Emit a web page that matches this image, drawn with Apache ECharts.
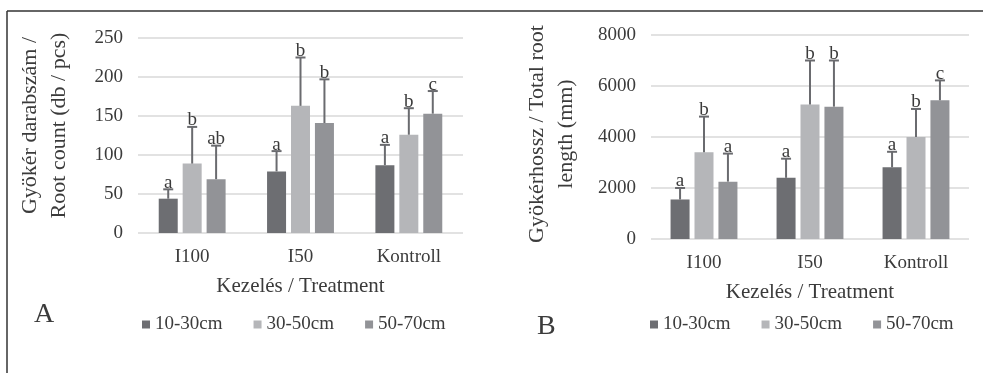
<!DOCTYPE html>
<html><head><meta charset="utf-8">
<script src="https://cdn.jsdelivr.net/npm/echarts@6/dist/echarts.min.js"></script>
<style>html,body{margin:0;padding:0;background:#fff}#c{width:983px;height:373px}</style>
</head><body><div id="c"></div>
<script>
var categories = ['I100', 'I50', 'Kontroll'];
var seriesNames = ['10-30cm', '30-50cm', '50-70cm'];
// Chart A: root count (mean) and error-bar tops
var countMean = [[44, 79, 87], [89, 163, 126], [69, 141, 153]];
var countErrTop = [[56, 105, 113], [136, 225, 160], [112, 197, 182]];
var countLetters = [['a', 'a', 'a'], ['b', 'b', 'b'], ['ab', 'b', 'c']];
var countTicks = [0, 50, 100, 150, 200, 250];
// Chart B: total root length (mean) and error-bar tops
var lengthMean = [[1550, 2400, 2810], [3400, 5270, 4000], [2250, 5190, 5440]];
var lengthErrTop = [[2000, 3150, 3420], [4800, 7000, 5100], [3350, 7000, 6220]];
var lengthLetters = [['a', 'a', 'a'], ['b', 'b', 'b'], ['a', 'b', 'c']];
var lengthTicks = [0, 2000, 4000, 6000, 8000];

var colors = ['#6d6e72', '#b5b6b9', '#929397'];
var FONT = '"Liberation Serif", "Times New Roman", serif';
var TXT = '#3b3b3b';
var BARW = 19, BARGAP = '26%';
var STEP = BARW * 1.26;

var chart = echarts.init(document.getElementById('c'), null, {renderer: 'canvas'});

function xAxisCfg(gi, name) {
  return {
    type: 'category', gridIndex: gi, data: categories,
    axisLine: {show: false}, axisTick: {show: false},
    axisLabel: {fontFamily: FONT, fontSize: 19, color: TXT, margin: 15},
    name: name, nameLocation: 'middle', nameGap: 43,
    nameTextStyle: {fontFamily: FONT, fontSize: 21, color: TXT}
  };
}
function yAxisCfg(gi, ticks, name, nameGap, pad) {
  return {
    type: 'value', gridIndex: gi, min: ticks[0], max: ticks[ticks.length - 1],
    interval: ticks[1] - ticks[0],
    axisLine: {show: false}, axisTick: {show: false},
    splitLine: {lineStyle: {color: '#d9d9d9', width: 1.5}},
    axisLabel: {fontFamily: FONT, fontSize: 19, color: TXT, margin: 15,
      formatter: function (v) { return String(v); }},
    name: name, nameLocation: 'middle', nameRotate: 90, nameGap: nameGap,
    nameTextStyle: {fontFamily: FONT, fontSize: 22, color: TXT, lineHeight: 29, padding: pad}
  };
}

var series = [];
function addChart(gi, means, errs, letters) {
  for (var s = 0; s < 3; s++) {
    series.push({
      type: 'bar', name: seriesNames[s], xAxisIndex: gi, yAxisIndex: gi,
      data: means[s], barWidth: BARW, barGap: BARGAP,
      itemStyle: {color: colors[s]}, silent: true
    });
  }
  for (var s2 = 0; s2 < 3; s2++) {
    (function (si) {
      var d = [];
      for (var c = 0; c < categories.length; c++) d.push([c, means[si][c], errs[si][c]]);
      series.push({
        type: 'custom', xAxisIndex: gi, yAxisIndex: gi, z: 5, silent: true,
        data: d,
        renderItem: function (params, api) {
          var c = api.value(0);
          var off = (si - 1) * STEP;
          var p0 = api.coord([c, api.value(1)]);
          var p1 = api.coord([c, api.value(2)]);
          var x = p0[0] + off;
          return {
            type: 'group', children: [
              {type: 'line', shape: {x1: x, y1: p0[1], x2: x, y2: p1[1]}, style: {stroke: '#6a6b6f', lineWidth: 2}},
              {type: 'line', shape: {x1: x - 5, y1: p1[1], x2: x + 5, y2: p1[1]}, style: {stroke: '#6a6b6f', lineWidth: 2}},
              {type: 'text', x: x, y: p1[1] + 3, style: {text: letters[si][params.dataIndex], font: '19px ' + FONT, fill: TXT, align: 'center', verticalAlign: 'bottom'}}
            ]
          };
        }
      });
    })(s2);
  }
}
addChart(0, countMean, countErrTop, countLetters);
addChart(1, lengthMean, lengthErrTop, lengthLetters);

var legendBase = {
  data: seriesNames, itemWidth: 8, itemHeight: 8, itemGap: 31, icon: 'rect',
  textStyle: {fontFamily: FONT, fontSize: 19, color: TXT},
  selectedMode: false
};

chart.setOption({
  animation: false,
  textStyle: {fontFamily: FONT},
  grid: [
    {left: 138, right: 520, top: 38, bottom: 140},
    {left: 651, right: 14, top: 35, bottom: 134}
  ],
  xAxis: [xAxisCfg(0, 'Kezelés / Treatment'), xAxisCfg(1, 'Kezelés / Treatment')],
  yAxis: [
    yAxisCfg(0, countTicks, 'Gyökér darabszám /\nRoot count (db / pcs)', 64, [0, 0, 0, 20]),
    yAxisCfg(1, lengthTicks, 'Gyökérhossz / Total root\nlength (mm)', 70, [0, 0, 0, 6])
  ],
  legend: [
    Object.assign({}, legendBase, {left: 137, top: 310}),
    Object.assign({}, legendBase, {left: 645, top: 310, itemGap: 31})
  ],
  graphic: [
    {type: 'line', shape: {x1: 7, y1: 11, x2: 983, y2: 11}, style: {stroke: '#333', lineWidth: 1.5}},
    {type: 'line', shape: {x1: 7, y1: 11, x2: 7, y2: 373}, style: {stroke: '#333', lineWidth: 1.5}},
    {type: 'text', left: 34, top: 301, style: {text: 'A', font: '28px ' + FONT, fill: TXT}},
    {type: 'text', left: 537, top: 313, style: {text: 'B', font: '28px ' + FONT, fill: TXT}}
  ],
  series: series
});
</script></body></html>
